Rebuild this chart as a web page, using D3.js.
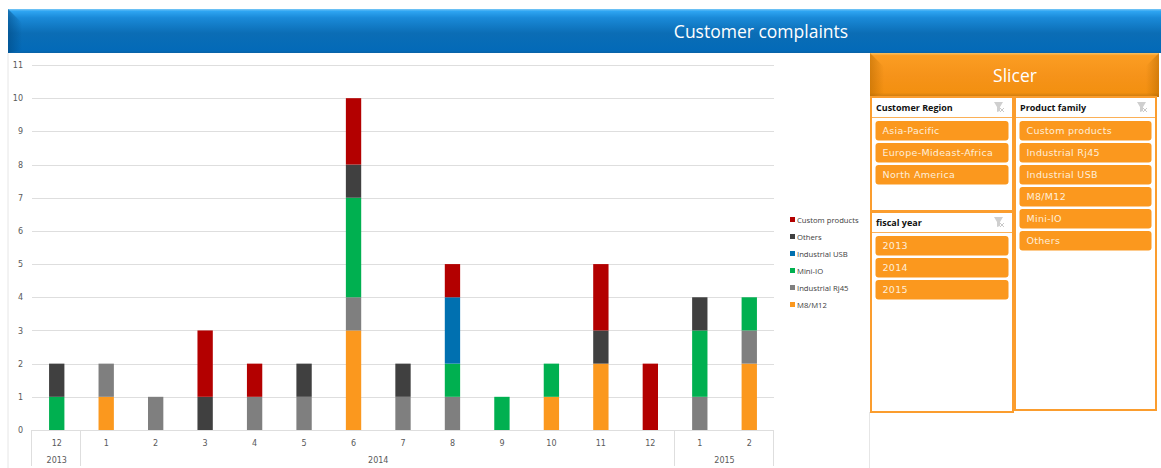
<!DOCTYPE html>
<html><head><meta charset="utf-8">
<script src="https://cdnjs.cloudflare.com/ajax/libs/d3/7.8.5/d3.min.js"></script>
<style>html,body{margin:0;padding:0;background:#fff;overflow:hidden}svg{display:block}text{font-family:"Open Sans",sans-serif}</style>
</head><body><svg id="c" width="1161" height="468"></svg>
<script>
const months=["12","1","2","3","4","5","6","7","8","9","10","11","12","1","2"];
const years=[["2013",1],["2014",12],["2015",2]];
const seriesNames=["M8/M12","Industrial Rj45","Mini-IO","Industrial USB","Others","Custom products"];
const seriesColors=["#fb981e","#7f7f7f","#00b050","#0070b0","#404040","#b30000"];
const m8m12=[0,1,0,0,0,0,3,0,0,0,1,2,0,0,2];
const rj45=[0,1,1,0,1,1,1,1,1,0,0,0,0,1,1];
const miniIO=[1,0,0,0,0,0,3,0,1,1,1,0,0,2,1];
const usb=[0,0,0,0,0,0,0,0,2,0,0,0,0,0,0];
const others=[1,0,0,1,0,1,1,1,0,0,0,1,0,1,0];
const custom=[0,0,0,2,1,0,2,0,1,0,0,2,2,0,0];
const yTicks=[0,1,2,3,4,5,6,7,8,9,10,11];
const regionItems=["Asia-Pacific","Europe-Mideast-Africa","North America"];
const familyItems=["Custom products","Industrial Rj45","Industrial USB","M8/M12","Mini-IO","Others"];
const yearItems=["2013","2014","2015"];

const svg=d3.select("#c");
const defs=svg.append("defs");
function grad(id,stops){const g=defs.append("linearGradient").attr("id",id).attr("x1",0).attr("y1",0).attr("x2",0).attr("y2",1);
 stops.forEach(s=>g.append("stop").attr("offset",s[0]).attr("stop-color",s[1]));}
function hgrad(id,color,from,to){const g=defs.append("linearGradient").attr("id",id).attr("x1",from).attr("y1",0).attr("x2",to).attr("y2",0);
 g.append("stop").attr("offset",0).attr("stop-color",color).attr("stop-opacity",.55);
 g.append("stop").attr("offset",1).attr("stop-color",color).attr("stop-opacity",0);}
grad("blue",[[0,"#7cc8f5"],[0.05,"#2ea5f2"],[0.2,"#1a8ad8"],[0.55,"#0b6db5"],[0.95,"#036ab8"],[1,"#0a62a5"]]);
grad("orange",[[0,"#f9c264"],[0.06,"#fb9d22"],[0.5,"#f6931a"],[0.9,"#f39010"],[1,"#c97a10"]]);
hgrad("fadeB","#00477f",0,1);hgrad("fadeO","#b86a00",0,1);hgrad("fadeOR","#b86a00",1,0);

const guide="#e6e6e6";
svg.append("line").attr("x1",8).attr("x2",8).attr("y1",53).attr("y2",468).attr("stroke",guide);
svg.append("line").attr("x1",869.5).attr("x2",869.5).attr("y1",412).attr("y2",468).attr("stroke",guide);

const y=d3.scaleLinear().domain([0,11]).range([430,65]);
const x=d3.scaleBand().domain(d3.range(months.length)).range([32,774]).paddingInner(0.69).paddingOuter(0.345);
const rows=months.map((m,i)=>({i,"M8/M12":m8m12[i],"Industrial Rj45":rj45[i],"Mini-IO":miniIO[i],"Industrial USB":usb[i],"Others":others[i],"Custom products":custom[i]}));
const stacked=d3.stack().keys(seriesNames)(rows);

const yAxis=d3.axisLeft(y).tickValues(yTicks).tickSize(0).tickPadding(0).tickFormat(d3.format("d"));
const ga=svg.append("g").attr("transform","translate(23,0)").call(yAxis);
ga.select(".domain").remove();
ga.selectAll("text").attr("fill","#595959").style("font-size","8px").style("font-family","'DejaVu Sans',sans-serif");
svg.append("g").selectAll("line").data(yTicks.filter(d=>d>0)).join("line")
 .attr("x1",32).attr("x2",774).attr("y1",d=>Math.round(y(d))+.5).attr("y2",d=>Math.round(y(d))+.5).attr("stroke","#dedede");

svg.append("g").selectAll("g").data(stacked).join("g").attr("fill",(d,i)=>seriesColors[i])
 .selectAll("rect").data(d=>d.filter(p=>p[1]>p[0])).join("rect")
 .attr("x",d=>x(d.data.i)).attr("width",x.bandwidth()).attr("y",d=>y(d[1])).attr("height",d=>y(d[0])-y(d[1]));

const step=x.step();
const x0=32;
const axisG=svg.append("g");
axisG.append("line").attr("x1",32).attr("x2",774).attr("y1",430.5).attr("y2",430.5).attr("stroke","#dedede");
let cum=0;const bounds=[0];const yearPos=[];
years.forEach(([n,c])=>{yearPos.push({n,c:cum+c/2});cum+=c;bounds.push(cum);});
axisG.selectAll("line.b").data(bounds).join("line").attr("class","b")
 .attr("x1",d=>Math.floor(x0+d*step)-.5).attr("x2",d=>Math.floor(x0+d*step)-.5).attr("y1",430).attr("y2",466).attr("stroke","#dedede");
const small=s=>s.style("font-family","'DejaVu Sans',sans-serif").style("font-size","8px").attr("fill","#595959").attr("text-anchor","middle");
axisG.selectAll("text.m").data(months).join("text").attr("class","m").attr("x",(d,i)=>x(i)+x.bandwidth()/2).attr("y",445.5).text(d=>d).call(small);
axisG.selectAll("text.y").data(yearPos).join("text").attr("class","y").attr("x",d=>x0+d.c*step).attr("y",463).text(d=>d.n).call(small);

const lg=svg.append("g").selectAll("g").data(seriesNames.slice().reverse()).join("g")
 .attr("transform",(d,i)=>`translate(790,${217+i*17})`);
lg.append("rect").attr("width",5).attr("height",5).attr("fill",d=>seriesColors[seriesNames.indexOf(d)]);
lg.append("text").attr("x",7).attr("y",5.5).text(d=>d).attr("fill","#404040").style("font-size","7.7px");

function bevel(g,bx,by,w,h,fill,fade,title,tx,ty,size){
 g.append("rect").attr("x",bx).attr("y",by).attr("width",w).attr("height",h).attr("fill",`url(#${fill})`);
 const e=14;
 g.append("path").attr("d",`M${bx},${by}L${bx+e},${by+e}L${bx+e},${by+h-3}L${bx},${by+h}Z`).attr("fill",`url(#${fade})`);
 g.append("text").attr("x",tx).attr("y",ty).attr("text-anchor","middle").attr("fill","#fff").style("font-size",size+"px").text(title);
}
bevel(svg.append("g"),8,9,1153,44,"blue","fadeB","Customer complaints",761,38,17.5);
const sg=svg.append("g");
bevel(sg,870,53,289,44,"orange","fadeO","Slicer",1015,82,17.5);
sg.append("path").attr("d","M1159,53L1146,66L1146,94L1159,97Z").attr("fill","url(#fadeOR)");

const oc="#fb9d2e";
function slicer(px,py,w,h,title,items,btnY){
 const g=svg.append("g");
 g.append("rect").attr("x",px+1).attr("y",py).attr("width",w-2).attr("height",h).attr("fill","#fff").attr("stroke",oc).attr("stroke-width",2);
 g.append("line").attr("x1",px+2).attr("x2",px+w-2).attr("y1",py+20.5).attr("y2",py+20.5).attr("stroke",oc).attr("opacity",.8);
 g.append("text").attr("x",px+6).attr("y",py+13.5).text(title).attr("fill","#111").style("font-size","9px").style("font-weight",700);
 const ix=px+w-20;
 g.append("path").attr("d",`M${ix},${py+5}h9l-3,5v4l-3,1v-5Z`).attr("fill","#cfcfcf");
 g.append("path").attr("d",`M${ix+6},${py+11}l4,4m0,-4l-4,4`).attr("stroke","#c8c8c8").attr("fill","none");
 const b=d3.scalePoint().domain(items).range([btnY,btnY+22*(items.length-1)]);
 const bt=g.selectAll("g").data(items).join("g").attr("transform",d=>`translate(${px+5.5},${b(d)})`);
 bt.append("rect").attr("width",w-11).attr("height",19.5).attr("rx",3).attr("fill","#fb981e");
 bt.append("text").attr("x",7).attr("y",13).text(d=>d).attr("fill","#feeeda").style("font-size","9.5px").style("letter-spacing",".3px").style("font-family","'DejaVu Sans',sans-serif");
}
slicer(870,97,144,114,"Customer Region",regionItems,121);
slicer(1014,97,143,313,"Product family",familyItems,121);
slicer(870,212,144,200,"fiscal year",yearItems,236);
</script></body></html>
